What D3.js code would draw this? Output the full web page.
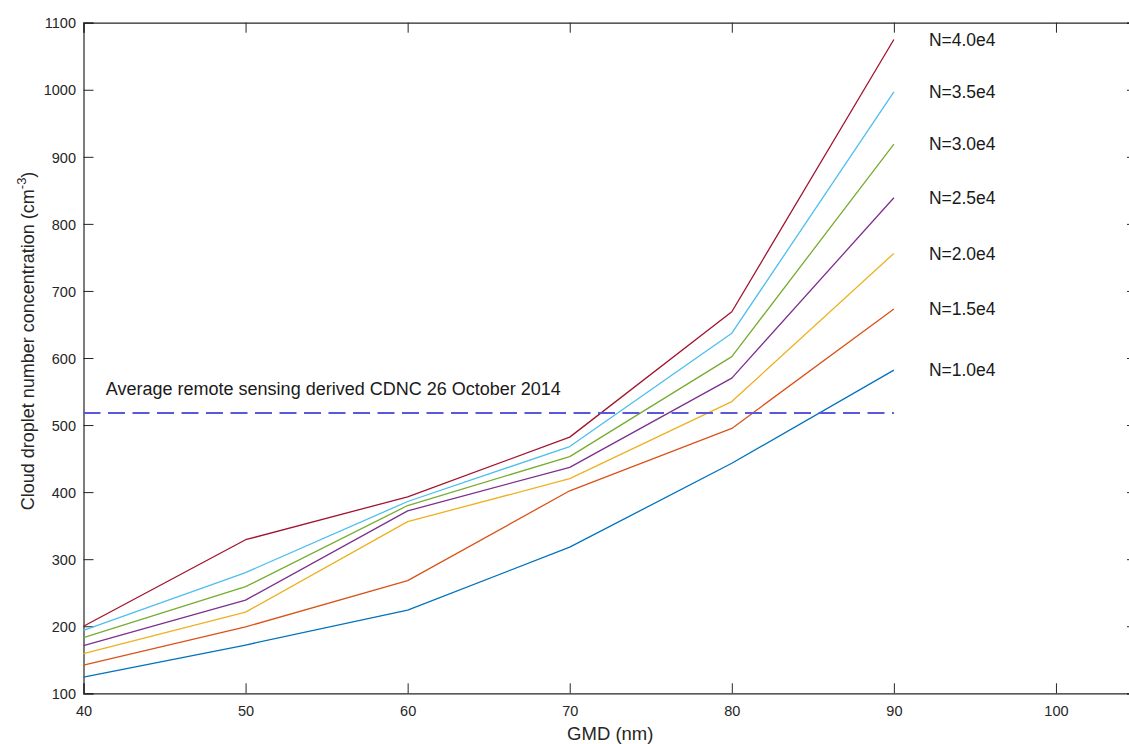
<!DOCTYPE html>
<html>
<head>
<meta charset="utf-8">
<script src="https://cdn.jsdelivr.net/npm/d3@7"></script>
<style>
  html, body { margin: 0; padding: 0; background: #fff; }
  svg { display: block; font-family: "Liberation Sans", Arial, Helvetica, sans-serif; }
</style>
</head>
<body>
<svg id="chart" width="1129" height="744"></svg>
<script>
// GMD values (nm) shared by every curve
const gmd = [40, 50, 60, 70, 80, 90];

// Cloud droplet number concentration per aerosol number N
const cdncN10 = [124, 172, 224, 318, 443, 582];
const cdncN15 = [142, 199, 268, 402, 495, 673];
const cdncN20 = [159, 221, 356, 420, 535, 756];
const cdncN25 = [171, 239, 372, 437, 570, 839];
const cdncN30 = [183, 259, 380, 453, 602, 919];
const cdncN35 = [194, 280, 386, 468, 637, 997];
const cdncN40 = [200, 329, 393, 482, 669, 1075];

const seriesLabels = ["N=1.0e4", "N=1.5e4", "N=2.0e4", "N=2.5e4", "N=3.0e4", "N=3.5e4", "N=4.0e4"];
const seriesColors = ["#0072BD", "#D95319", "#EDB120", "#7E2F8E", "#77AC30", "#4DBEEE", "#A2142F"];

// Observed reference level
const remoteCdnc = 518;
const remoteLabel = "Average remote sensing derived CDNC 26 October 2014";

const xTicks = [40, 50, 60, 70, 80, 90, 100];
const yTicks = [100, 200, 300, 400, 500, 600, 700, 800, 900, 1000, 1100];

const series = [cdncN10, cdncN15, cdncN20, cdncN25, cdncN30, cdncN35, cdncN40].map((vals, i) => ({
  label: seriesLabels[i],
  color: seriesColors[i],
  points: gmd.map((g, j) => ({ x: g, y: vals[j] }))
}));

const svg = d3.select("#chart");
const plotLeft = 83.5, plotRight = 1137, plotTop = 22.7, plotBottom = 693.3;

const x = d3.scaleLinear().domain([40, 105]).range([plotLeft, plotRight]);
const y = d3.scaleLinear().domain([100, 1100]).range([plotBottom, plotTop]);

const axisColor = "#262626";
const tickLen = 10;

// Axes box with inward ticks on all four sides
const gx = svg.append("g").attr("transform", `translate(0,${plotBottom})`)
  .call(d3.axisBottom(x).tickValues(xTicks).tickSize(-tickLen).tickPadding(12).tickFormat(d3.format("d")));
const gxTop = svg.append("g").attr("transform", `translate(0,${plotTop})`)
  .call(d3.axisTop(x).tickValues(xTicks).tickSize(-tickLen).tickFormat(""));
const gy = svg.append("g").attr("transform", `translate(${plotLeft},0)`)
  .call(d3.axisLeft(y).tickValues(yTicks).tickSize(-tickLen).tickPadding(7.5).tickFormat(d3.format("d")));
const gyRight = svg.append("g").attr("transform", `translate(${plotRight},0)`)
  .call(d3.axisRight(y).tickValues(yTicks).tickSize(-tickLen).tickFormat(""));

[gx, gxTop, gy, gyRight].forEach(g => {
  g.selectAll(".domain").attr("stroke", axisColor).attr("stroke-width", 1.2);
  g.selectAll(".tick line").attr("stroke", axisColor).attr("stroke-width", 1);
  g.selectAll(".tick text").attr("fill", axisColor).attr("font-size", 14.5)
    .attr("font-family", "'Liberation Sans', Arial, sans-serif");
});
gx.selectAll(".tick text").attr("dy", "0.71em");
gy.selectAll(".tick text").attr("dy", "0.36em");

// Curves
const line = d3.line().x(d => x(d.x)).y(d => y(d.y));
svg.append("g").selectAll("path")
  .data(series)
  .join("path")
  .attr("d", d => line(d.points))
  .attr("fill", "none")
  .attr("stroke", d => d.color)
  .attr("stroke-width", 1.3)
  .attr("stroke-linejoin", "round");

// Curve labels placed beside each end point
svg.append("g").selectAll("text")
  .data(series)
  .join("text")
  .attr("x", d => x(d.points[d.points.length - 1].x) + 35)
  .attr("y", d => y(d.points[d.points.length - 1].y))
  .attr("dy", "0.35em")
  .attr("font-size", 17.5)
  .attr("fill", "#1a1a1a")
  .text(d => d.label);

// Remote sensing reference line
svg.append("line")
  .attr("x1", x(40)).attr("x2", x(90))
  .attr("y1", y(remoteCdnc)).attr("y2", y(remoteCdnc))
  .attr("stroke", "#5858dc")
  .attr("stroke-width", 2)
  .attr("stroke-dasharray", "17,7.5");

svg.append("text")
  .attr("x", x(41.38))
  .attr("y", y(remoteCdnc) - 18)
  .attr("font-size", 18)
  .attr("fill", "#1a1a1a")
  .text(remoteLabel);

// Axis titles
svg.append("text")
  .attr("x", (plotLeft + plotRight) / 2)
  .attr("y", 739.5)
  .attr("text-anchor", "middle")
  .attr("font-size", 18.5)
  .attr("fill", axisColor)
  .text("GMD (nm)");

const yTitle = svg.append("text")
  .attr("transform", `translate(34,341) rotate(-90)`)
  .attr("text-anchor", "middle")
  .attr("font-size", 18)
  .attr("fill", axisColor);
yTitle.append("tspan").text("Cloud droplet number concentration (cm");
yTitle.append("tspan").attr("dy", -8).attr("font-size", 13).text("-3");
yTitle.append("tspan").attr("dy", 8).text(")");
</script>
</body>
</html>
